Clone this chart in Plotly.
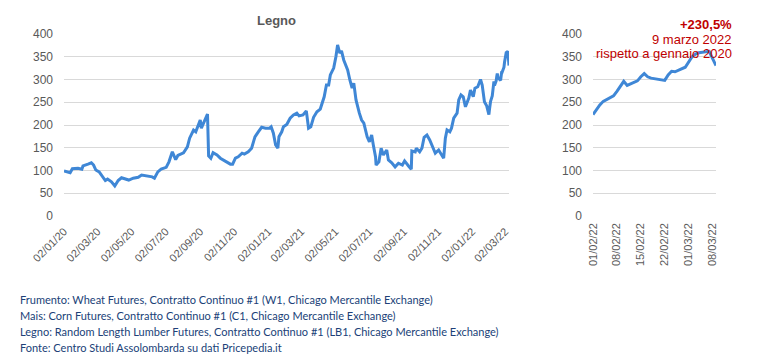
import plotly.graph_objects as go

# ---- data (index) ----
main_dates = [
"2020-01-02","2020-01-13","2020-01-17","2020-01-27","2020-02-03","2020-02-05","2020-02-14","2020-02-20","2020-02-24","2020-02-28",
"2020-03-05","2020-03-11","2020-03-16","2020-03-20","2020-03-27","2020-04-02","2020-04-08","2020-04-14","2020-04-20","2020-04-27",
"2020-05-05","2020-05-14","2020-05-20","2020-05-29","2020-06-08","2020-06-12","2020-06-18","2020-06-24","2020-07-03","2020-07-08",
"2020-07-14","2020-07-20","2020-07-24","2020-08-03","2020-08-10","2020-08-14","2020-08-21","2020-08-25","2020-08-31","2020-09-02",
"2020-09-04","2020-09-09","2020-09-15","2020-09-17","2020-09-21","2020-09-25","2020-10-02","2020-10-08","2020-10-14","2020-10-20",
"2020-10-26","2020-10-30","2020-11-04","2020-11-09","2020-11-16","2020-11-20","2020-11-27","2020-12-03","2020-12-09","2020-12-15",
"2020-12-21","2020-12-28","2021-01-04","2021-01-07","2021-01-11","2021-01-15","2021-01-19","2021-01-21","2021-01-26","2021-01-29",
"2021-02-04","2021-02-10","2021-02-16","2021-02-22","2021-02-26","2021-03-05","2021-03-11","2021-03-15","2021-03-19","2021-03-24",
"2021-03-30","2021-04-05","2021-04-12","2021-04-16","2021-04-20","2021-04-23","2021-04-29","2021-05-03","2021-05-06","2021-05-10",
"2021-05-13","2021-05-17","2021-05-24","2021-05-28","2021-06-01","2021-06-04","2021-06-08","2021-06-14","2021-06-18","2021-06-22",
"2021-06-28","2021-07-02","2021-07-06","2021-07-09","2021-07-13","2021-07-14","2021-07-19","2021-07-23","2021-07-27","2021-08-02",
"2021-08-05","2021-08-11","2021-08-17","2021-08-23","2021-08-30","2021-09-03","2021-09-07","2021-09-10","2021-09-15","2021-09-16",
"2021-09-22","2021-09-24","2021-09-30","2021-10-04","2021-10-08","2021-10-13","2021-10-18","2021-10-22","2021-10-28","2021-11-03",
"2021-11-08","2021-11-12","2021-11-15","2021-11-18","2021-11-23","2021-11-26","2021-11-30","2021-12-06","2021-12-09","2021-12-13",
"2021-12-17","2021-12-21","2021-12-27","2021-12-30","2022-01-04","2022-01-07","2022-01-12","2022-01-17","2022-01-20","2022-01-24",
"2022-01-28"]
main_values = [
99,95,104,105,103,110,114,117,112,101,
97,85,78,81,75,66,78,84,81,79,
83,85,90,88,86,83,97,103,107,119,
141,124,133,139,152,171,189,185,207,211,
193,209,224,132,127,139,134,127,123,119,
114,114,127,130,138,136,141,149,174,185,
195,193,193,196,182,156,149,174,185,196,
201,215,222,226,220,222,231,193,196,217,
229,235,262,288,288,310,325,350,376,358,
363,343,321,299,281,292,255,226,211,204,
174,163,178,156,130,112,119,149,134,145,
123,117,108,116,112,121,114,110,103,143,
141,149,141,149,173,178,167,156,138,145,
134,127,171,189,185,193,215,226,255,266,
262,240,259,277,262,281,284,300,288,251,
242]

zoom_dates = [
"2022-02-01","2022-02-02","2022-02-03","2022-02-04","2022-02-07","2022-02-08","2022-02-09","2022-02-10","2022-02-11",
"2022-02-14","2022-02-15","2022-02-16","2022-02-17","2022-02-18","2022-02-22","2022-02-23","2022-02-24","2022-02-25",
"2022-02-28","2022-03-01","2022-03-02","2022-03-03","2022-03-04","2022-03-07","2022-03-08","2022-03-09"]
zoom_values = [
223,234,244,252,264,274,286,296,287,
297,306,313,306,303,298,310,318,317,
327,338,350,356,359,362,348,330.5]

main_ticks = ["2020-01-02","2020-03-02","2020-05-02","2020-07-02","2020-09-02","2020-11-02","2021-01-02",
              "2021-03-02","2021-05-02","2021-07-02","2021-09-02","2021-11-02","2022-01-02","2022-03-02"]
main_ticktext = ["02/01/20","02/03/20","02/05/20","02/07/20","02/09/20","02/11/20","02/01/21",
                 "02/03/21","02/05/21","02/07/21","02/09/21","02/11/21","02/01/22","02/03/22"]
zoom_ticks = ["2022-02-01","2022-02-08","2022-02-15","2022-02-22","2022-03-01","2022-03-08"]
zoom_ticktext = ["01/02/22","08/02/22","15/02/22","22/02/22","01/03/22","08/03/22"]
y_ticks = [0, 50, 100, 150, 200, 250, 300, 350, 400]

title = "Legno"
note_lines = ["+230,5%", "9 marzo 2022", "rispetto a gennaio 2020"]
footnotes = [
    "Frumento: Wheat Futures, Contratto Continuo #1 (W1, Chicago Mercantile Exchange)",
    "Mais: Corn Futures, Contratto Continuo #1 (C1, Chicago Mercantile Exchange)",
    "Legno: Random Length Lumber Futures, Contratto Continuo #1 (LB1, Chicago Mercantile Exchange)",
    "Fonte: Centro Studi Assolombarda su dati Pricepedia.it",
]

W, H = 774, 363
OFF = 8  # page body margin of the html page
LINE = "#3f87d6"
GRID = "#d9d9d9"
TXT = "#595959"
RED = "#c00000"
NAVY = "#203f78"

def px(x):
    return (x - OFF) / W

def py(y):
    return 1 - (y - OFF) / H

fig = go.Figure()
fig.add_trace(go.Scatter(x=main_dates + zoom_dates, y=main_values + zoom_values, mode="lines",
                         line=dict(color=LINE, width=3), xaxis="x", yaxis="y", showlegend=False))
fig.add_trace(go.Scatter(x=zoom_dates, y=zoom_values, mode="lines",
                         line=dict(color=LINE, width=3), xaxis="x2", yaxis="y2", showlegend=False))

axfont = dict(family="Liberation Sans, Arial", size=12, color=TXT)
xfont = dict(family="Liberation Sans, Arial", size=11, color=TXT)

fig.update_layout(
    template="none",
    width=W, height=H, margin=dict(l=0, r=0, t=0, b=0, pad=0),
    paper_bgcolor="white", plot_bgcolor="white",
    xaxis=dict(domain=[px(64), px(509)], type="date", range=["2020-01-02", "2022-03-09"],
               tickvals=main_ticks, ticktext=main_ticktext, tickangle=-45, tickfont=xfont,
               showgrid=False, zeroline=False, showline=False, ticks="", anchor="y",
               automargin=False, ticklabelstandoff=6),
    yaxis=dict(domain=[py(216), py(34)], range=[0, 400], tickvals=y_ticks, tickfont=axfont,
               showgrid=True, gridcolor=GRID, gridwidth=1, zeroline=False, showline=False,
               ticks="", anchor="x", automargin=False, ticklabelstandoff=10),
    xaxis2=dict(domain=[px(593), px(716)], type="date", range=["2022-02-01", "2022-03-09"],
                tickvals=zoom_ticks, ticktext=zoom_ticktext, tickangle=-90, tickfont=xfont,
                showgrid=False, zeroline=False, showline=False, ticks="", anchor="y2",
                automargin=False, ticklabelstandoff=4),
    yaxis2=dict(domain=[py(216), py(34)], range=[0, 400], tickvals=y_ticks, tickfont=axfont,
                showgrid=True, gridcolor=GRID, gridwidth=1, zeroline=False, showline=False,
                ticks="", anchor="x2", automargin=False, ticklabelstandoff=10),
)

ann = [dict(text="<b>" + title + "</b>", x=px(276), y=py(20), xref="paper", yref="paper",
            showarrow=False, xanchor="center", yanchor="middle",
            font=dict(family="Liberation Sans, Arial", size=13, color=TXT))]
for i, (t, yy) in enumerate(zip(note_lines, [24, 39.5, 54])):
    ann.append(dict(text=("<b>" + t + "</b>") if i == 0 else t, x=px(734), y=py(yy),
                    xref="paper", yref="paper", showarrow=False, xanchor="right", yanchor="middle",
                    font=dict(family="Liberation Sans, Arial", size=13, color=RED)))
for i, t in enumerate(footnotes):
    ann.append(dict(text=t, x=px(18), y=py(299 + 16 * i), xref="paper", yref="paper",
                    showarrow=False, xanchor="left", yanchor="middle",
                    font=dict(family="Lato", size=11, color=NAVY)))
fig.update_layout(annotations=ann)

fig.write_html("out.html")
